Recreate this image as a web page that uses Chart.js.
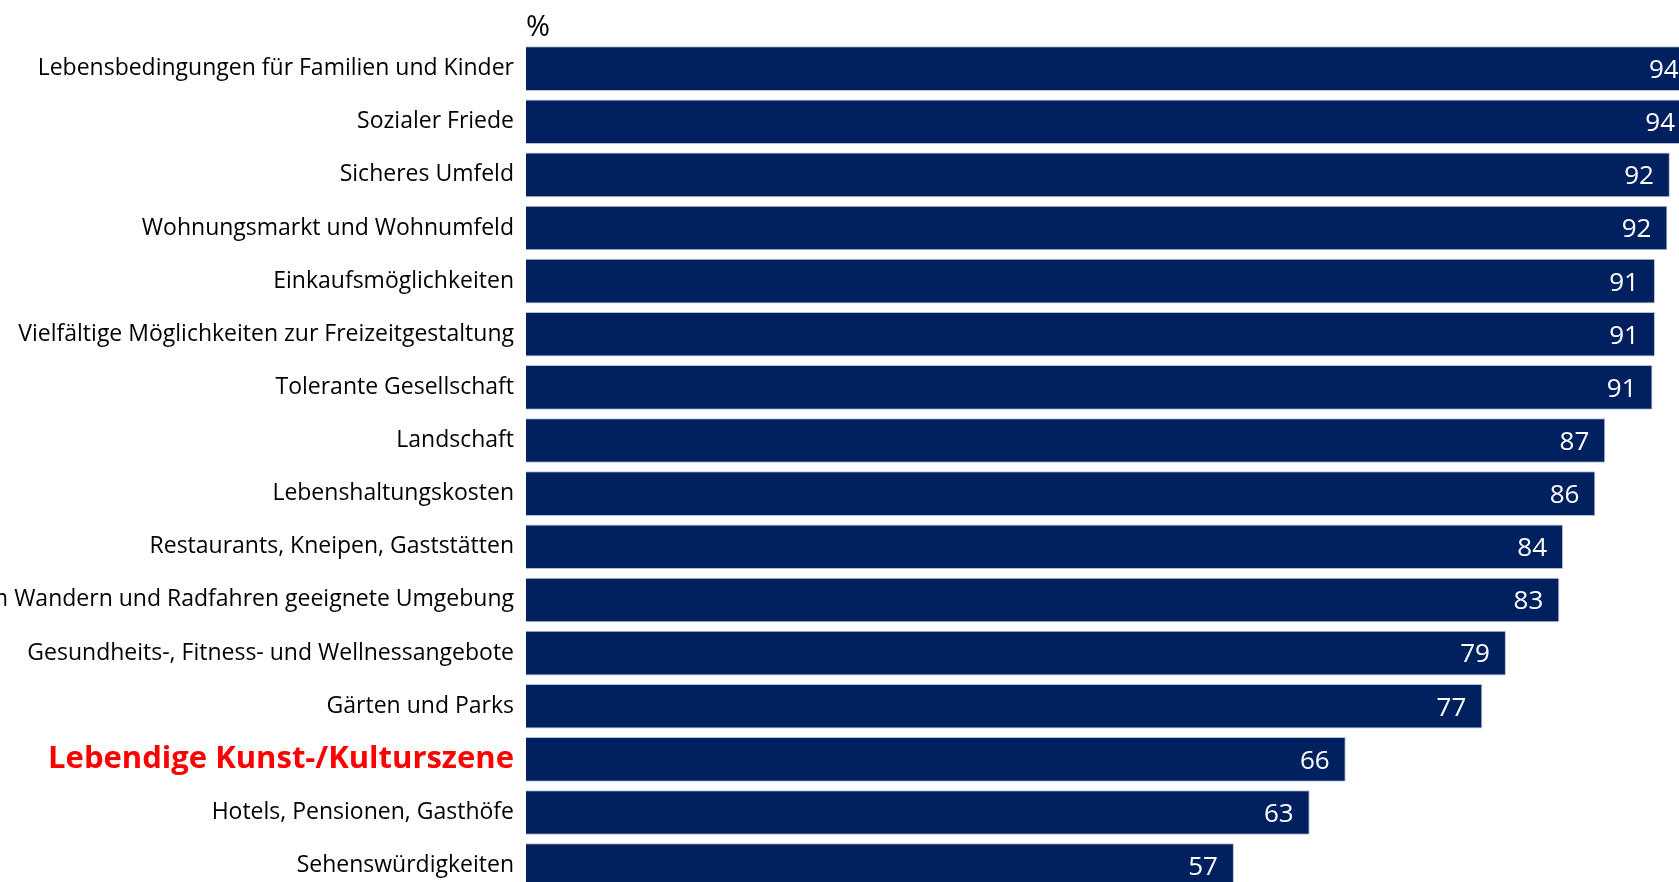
<!DOCTYPE html>
<html>
<head>
<meta charset="utf-8">
<script src="https://cdn.jsdelivr.net/npm/chart.js@4"></script>
<style>
  html, body { margin: 0; padding: 0; width: 1679px; height: 882px; overflow: hidden; background: #fff; }
  #wrap { position: absolute; left: -74px; top: 0; width: 1842px; height: 918px; }
</style>
</head>
<body>
<div id="wrap"><canvas id="rankChart"></canvas></div>
<script>
var categories = [
    'Lebensbedingungen für Familien und Kinder',
    'Sozialer Friede',
    'Sicheres Umfeld',
    'Wohnungsmarkt und Wohnumfeld',
    'Einkaufsmöglichkeiten',
    'Vielfältige Möglichkeiten zur Freizeitgestaltung',
    'Tolerante Gesellschaft',
    'Landschaft',
    'Lebenshaltungskosten',
    'Restaurants, Kneipen, Gaststätten',
    'Zum Wandern und Radfahren geeignete Umgebung',
    'Gesundheits-, Fitness- und Wellnessangebote',
    'Gärten und Parks',
    'Lebendige Kunst-/Kulturszene',
    'Hotels, Pensionen, Gasthöfe',
    'Sehenswürdigkeiten'
];
var values = [94.1, 93.8, 92.1, 91.9, 90.9, 90.9, 90.7, 86.9, 86.1, 83.5, 83.2, 78.9, 77.0, 66.0, 63.1, 57.0];
var highlightIndex = 13;

// white value labels at the end of each bar
var valueLabels = {
    id: 'valueLabels',
    afterDatasetsDraw: function (chart) {
        var ctx = chart.ctx;
        var meta = chart.getDatasetMeta(0);
        ctx.save();
        ctx.font = '26px "Open Sans"';
        ctx.fillStyle = '#ffffff';
        ctx.textAlign = 'right';
        ctx.textBaseline = 'middle';
        meta.data.forEach(function (bar, i) {
            ctx.fillText(Math.round(values[i]), bar.x - 16, bar.y + 2);
        });
        ctx.restore();
    }
};

var ctx = document.getElementById('rankChart').getContext('2d');
var chart = new Chart(ctx, {
    type: 'bar',
    data: {
        labels: categories,
        datasets: [{
            data: values,
            backgroundColor: '#002060',
            borderColor: '#b8c1d6',
            borderWidth: 1,
            barPercentage: 0.84,
            categoryPercentage: 1
        }]
    },
    plugins: [valueLabels],
    options: {
        indexAxis: 'y',
        responsive: true,
        maintainAspectRatio: false,
        animation: false,
        layout: { padding: { top: 0, right: 0, bottom: 7, left: 0 } },
        plugins: {
            legend: { display: false },
            tooltip: { enabled: false }
        },
        scales: {
            x: {
                position: 'top',
                min: 0,
                max: 100,
                grid: { display: false, drawTicks: false },
                border: { display: false },
                ticks: { display: false },
                title: {
                    display: true,
                    text: '%',
                    align: 'start',
                    color: '#000',
                    font: { family: 'Open Sans', size: 29 },
                    padding: { top: 10, bottom: 0 }
                },
                afterFit: function (scale) { scale.height = 42; }
            },
            y: {
                grid: { display: false, drawTicks: false },
                border: { display: false },
                ticks: {
                    autoSkip: false,
                    padding: 12,
                    color: function (c) { return c.index === highlightIndex ? '#ff0000' : '#000000'; },
                    font: function (c) {
                        return c.index === highlightIndex
                            ? { family: 'Open Sans', size: 31, weight: 'bold' }
                            : { family: 'Open Sans', size: 23 };
                    }
                },
                afterFit: function (scale) { scale.width = 600; }
            }
        }
    }
});
</script>
</body>
</html>
